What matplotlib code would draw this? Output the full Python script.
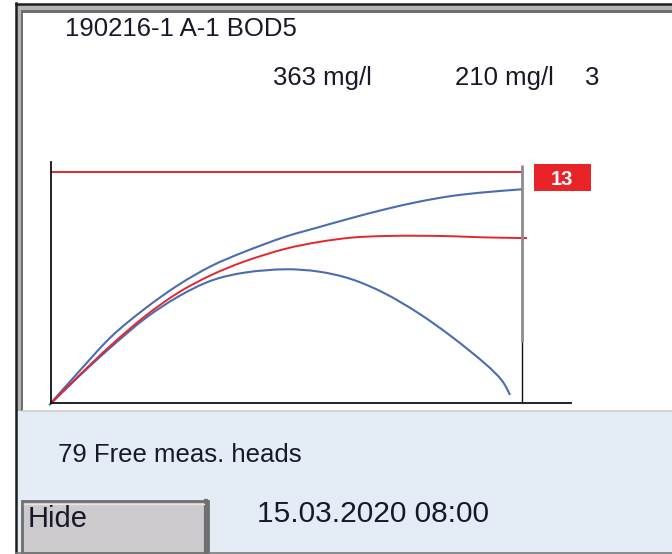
import matplotlib
matplotlib.use("Agg")
import matplotlib.pyplot as plt
from matplotlib.patches import Rectangle, PathPatch
from matplotlib.path import Path

# ---------------- data ----------------
title = "190216-1 A-1 BOD5"
value_a = "363 mg/l"
value_b = "210 mg/l"
value_c = "3"
info_text = "79 Free meas. heads"
date_text = "15.03.2020 08:00"
button_text = "Hide"
limit_label = "13"

days = [0, 0.29, 0.64, 1.0, 1.35, 1.7, 2.06, 2.48, 2.84, 3.19, 3.54, 3.9, 4.25, 4.6, 5.0]
upper_blue = [0, 13.3, 28.7, 40.9, 51.0, 59.2, 65.5, 71.8, 76.0, 80.0, 83.7, 87.0, 89.5, 91.1, 92.4]
red_curve = [0, 11.6, 25.1, 37.6, 47.7, 55.3, 61.3, 66.6, 69.6, 71.5, 72.2, 72.3, 72.1, 71.6, 71.3]
red_days = [0, 0.29, 0.64, 1.0, 1.35, 1.7, 2.06, 2.48, 2.84, 3.19, 3.54, 3.9, 4.25, 4.6, 5.05]
lower_days = [-0.02, 0.29, 0.64, 1.0, 1.35, 1.7, 2.06, 2.48, 2.84, 3.19, 3.54, 3.9, 4.25, 4.6, 4.78, 4.87]
lower_blue = [-1.0, 11.3, 24.3, 36.6, 46.0, 52.9, 56.4, 57.8, 56.8, 53.5, 47.4, 38.8, 28.7, 17.2, 9.9, 3.5]
limit_value = 100
end_day = 5.0

W, H = 672, 554
fig = plt.figure(figsize=(W / 100, H / 100), dpi=100)
plt.rcParams['font.family'] = ['Liberation Sans', 'DejaVu Sans']

# background / UI layer in pixel coordinates
bg = fig.add_axes([0, 0, 1, 1])
bg.set_xlim(0, W)
bg.set_ylim(H, 0)
bg.axis('off')

bg.add_patch(Rectangle((0, 0), W, H, facecolor='white', edgecolor='none'))
bg.add_patch(Rectangle((16, 411), W - 16, H - 411, facecolor='#e4ecf5', edgecolor='none'))
bg.add_patch(Rectangle((17, 5), W - 17, 406, facecolor='#b4b4b4', edgecolor='none'))
bg.add_patch(Rectangle((20.5, 9.5), W - 20.5, 401.5, facecolor='#6e6e6e', edgecolor='none'))
bg.add_patch(Rectangle((23, 12.5), W - 23, 398, facecolor='white', edgecolor='none'))
bg.plot([23, W], [411, 411], color='#d4d4d4', lw=1.5)
bg.plot([16, 16], [3, H], color='#1e1e1e', lw=1.8)
bg.plot([16, W], [4, 4], color='#1e1e1e', lw=1.8)
bg.plot([16, W], [553, 553], color='#7a7a7a', lw=1.2)

# button
bg.add_patch(Rectangle((22, 501), 186, 52, facecolor='#cccacd', edgecolor='#6f6f6f', lw=2))
bg.plot([206, 206], [501, 553], color='#6f6f6f', lw=3)
bg.plot([24, 204], [503.5, 503.5], color='#e6e6e6', lw=1)

txt_color = '#181828'
bg.text(65, 36, title, fontsize=18.5, color=txt_color, va='baseline', ha='left')
bg.text(273, 85, value_a, fontsize=18.5, color=txt_color, va='baseline', ha='left')
bg.text(455, 85, value_b, fontsize=18.5, color=txt_color, va='baseline', ha='left')
bg.text(585, 85, value_c, fontsize=18.5, color=txt_color, va='baseline', ha='left')
bg.text(58, 461.5, info_text, fontsize=18.5, color=txt_color, va='baseline', ha='left')
bg.text(28, 527, button_text, fontsize=21, color=txt_color, va='baseline', ha='left')
bg.text(257, 521.5, date_text, fontsize=21.5, color=txt_color, va='baseline', ha='left')

bg.add_patch(Rectangle((534, 164), 57, 27, facecolor='#e92429', edgecolor='none'))
bg.text(562, 185, limit_label, fontsize=14.5, color='white', fontweight='bold',
        va='baseline', ha='center')

# ---------------- chart ----------------
x0_px, y0_px = 51, 403
px_per_day = 94.26
px_per_unit = 2.313
right_px, top_px = 571, 162
ax = fig.add_axes([x0_px / W, (H - y0_px) / H, (right_px - x0_px) / W, (y0_px - top_px) / H])
ax.set_xlim(0, (right_px - x0_px) / px_per_day)
ax.set_ylim(0, (y0_px - top_px) / px_per_unit)
ax.patch.set_alpha(0)
for s in ['top', 'right']:
    ax.spines[s].set_visible(False)
for s in ['left', 'bottom']:
    ax.spines[s].set_color('#111111')
    ax.spines[s].set_linewidth(1.3)
ax.set_xticks([])
ax.set_yticks([])


def smooth_path(xs, ys):
    """Catmull-Rom style Bezier path through the given points (rendering only)."""
    pts = list(zip(xs, ys))
    verts = [pts[0]]
    codes = [Path.MOVETO]
    n = len(pts)
    for i in range(n - 1):
        p0 = pts[i - 1] if i > 0 else pts[i]
        p1 = pts[i]
        p2 = pts[i + 1]
        p3 = pts[i + 2] if i + 2 < n else pts[i + 1]
        c1 = (p1[0] + (p2[0] - p0[0]) / 6, p1[1] + (p2[1] - p0[1]) / 6)
        c2 = (p2[0] - (p3[0] - p1[0]) / 6, p2[1] - (p3[1] - p1[1]) / 6)
        verts += [c1, c2, p2]
        codes += [Path.CURVE4] * 3
    return Path(verts, codes)


blue = '#4a6cb0'
red = '#e4262c'
ax.plot([0, end_day], [limit_value, limit_value], color=red, lw=1.4, solid_capstyle='butt')
ax.plot([end_day, end_day], [26.4, 102.9], color='#8c8c8c', lw=2.0, solid_capstyle='butt')
ax.plot([end_day, end_day], [0, 26.4], color='#111111', lw=1.0, solid_capstyle='butt')
for xs, ys, c, lw in [(days, upper_blue, blue, 1.5), (lower_days, lower_blue, blue, 1.5),
                      (red_days, red_curve, red, 1.4)]:
    ax.add_patch(PathPatch(smooth_path(xs, ys), facecolor='none', edgecolor=c, lw=lw,
                           clip_on=False))

fig.savefig('out.png', dpi=100)
